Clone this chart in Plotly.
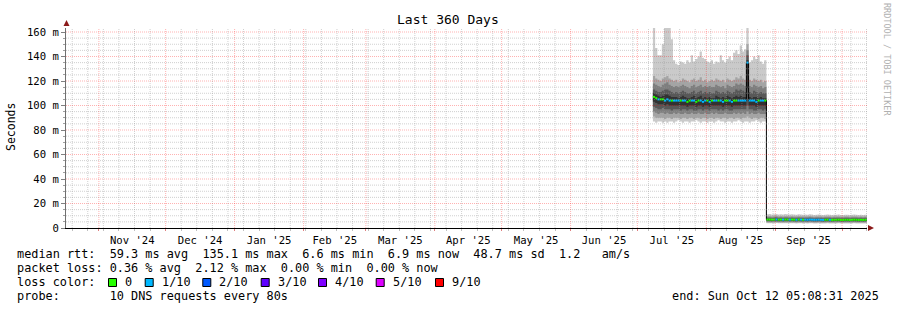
import pandas as pd
import plotly.graph_objects as go

# ---------------- data ----------------
range_start = pd.Timestamp('2024-10-17 05:08:31')
range_end = pd.Timestamp('2025-10-12 05:08:31')
days = pd.date_range('2025-07-08', periods=97, freq='D')

# sorted ping values (ms) per day: p1 = fastest ... p10 = slowest
p10 = [168, 147, 141, 141, 150, 168, 168, 168, 154, 137,
       134, 133, 136, 135, 134, 137, 135, 141, 136, 138,
       140, 144, 139, 138, 136, 135, 137, 134, 136, 135,
       141, 137, 135, 138, 140, 137, 143, 145, 142, 149,
       144, 146, 168, 135, 137, 140, 138, 141, 136, 134, 137,
       11.2, 11.4, 11.0, 11.3, 11.5, 11.1, 11.2, 11.0, 11.4, 11.3,
       11.1, 11.2, 11.0, 10.8, 11.3, 11.1, 10.9, 11.0, 10.8, 11.2,
       11.0, 10.7, 10.9, 11.1, 10.8, 10.6, 10.9, 11.0, 10.8, 10.7,
       10.9, 10.8, 11.0, 10.7, 10.6, 10.9, 10.8, 10.7, 10.9, 11.0,
       10.8, 10.7, 10.9, 10.6, 10.8, 10.9]
p9 = [124, 122, 121, 120, 122, 123, 124, 122, 121, 120,
      121, 119, 120, 122, 121, 120, 119, 121, 122, 120,
      121, 123, 120, 121, 119, 120, 121, 120, 122, 121,
      120, 121, 119, 122, 121, 120, 121, 123, 122, 124,
      122, 121, 150, 121, 120, 122, 121, 120, 121, 119, 120,
      9.7, 9.8, 9.6, 9.7, 9.9, 9.6, 9.7, 9.6, 9.8, 9.7,
      9.6, 9.7, 9.6, 9.5, 9.7, 9.6, 9.5, 9.6, 9.5, 9.7,
      9.6, 9.4, 9.5, 9.6, 9.5, 9.4, 9.5, 9.6, 9.5, 9.4,
      9.5, 9.5, 9.6, 9.4, 9.4, 9.5, 9.5, 9.4, 9.5, 9.6,
      9.5, 9.4, 9.5, 9.4, 9.5, 9.5]
p8 = [118, 117, 116, 115, 117, 118, 119, 117, 116, 115,
      116, 115, 116, 117, 116, 115, 114, 116, 117, 115,
      116, 117, 115, 116, 115, 116, 115, 115, 117, 116,
      115, 116, 114, 117, 116, 115, 116, 118, 117, 118,
      117, 116, 145, 116, 115, 117, 116, 115, 116, 114, 115,
      8.9, 9.0, 8.8, 8.9, 9.1, 8.8, 8.9, 8.8, 9.0, 8.9,
      8.8, 8.9, 8.8, 8.7, 8.9, 8.8, 8.7, 8.8, 8.7, 8.9,
      8.8, 8.6, 8.7, 8.8, 8.7, 8.6, 8.7, 8.8, 8.7, 8.6,
      8.7, 8.7, 8.8, 8.6, 8.6, 8.7, 8.7, 8.6, 8.7, 8.8,
      8.7, 8.6, 8.7, 8.6, 8.7, 8.7]
p7 = [113, 112, 111, 111, 112, 113, 113, 112, 111, 110,
      111, 110, 111, 112, 111, 110, 110, 111, 112, 110,
      111, 112, 110, 111, 110, 111, 110, 110, 112, 111,
      110, 111, 110, 112, 111, 110, 111, 113, 112, 113,
      112, 111, 141, 111, 110, 112, 111, 110, 111, 110, 110,
      8.1, 8.2, 8.0, 8.1, 8.3, 8.0, 8.1, 8.0, 8.2, 8.1,
      8.0, 8.1, 8.0, 7.9, 8.1, 8.0, 7.9, 8.0, 7.9, 8.1,
      8.0, 7.8, 7.9, 8.0, 7.9, 7.8, 7.9, 8.0, 7.9, 7.8,
      7.9, 7.9, 8.0, 7.8, 7.8, 7.9, 7.9, 7.8, 7.9, 8.0,
      7.9, 7.8, 7.9, 7.8, 7.9, 7.9]
p6 = [110, 109, 108, 107, 108, 109, 109, 108, 107, 107,
      107, 106, 107, 108, 107, 106, 106, 107, 108, 106,
      107, 108, 106, 107, 106, 107, 106, 106, 108, 107,
      106, 107, 106, 108, 107, 106, 107, 108, 107, 108,
      107, 107, 137, 107, 106, 107, 107, 106, 107, 106, 106,
      7.4, 7.4, 7.3, 7.4, 7.5, 7.3, 7.4, 7.3, 7.4, 7.4,
      7.3, 7.4, 7.3, 7.2, 7.4, 7.3, 7.2, 7.3, 7.2, 7.4,
      7.3, 7.2, 7.2, 7.3, 7.2, 7.1, 7.2, 7.3, 7.2, 7.1,
      7.2, 7.2, 7.3, 7.1, 7.1, 7.2, 7.2, 7.1, 7.2, 7.3,
      7.2, 7.1, 7.2, 7.1, 7.2, 7.4]
p5 = [103, 102, 101, 101, 101, 100, 101, 100, 100, 100,
      100, 100, 100, 100, 100, 99, 100, 100, 100, 99,
      100, 100, 99, 100, 100, 99, 100, 100, 100, 100,
      100, 99, 100, 100, 100, 99, 100, 100, 100, 100,
      100, 100, 114, 100, 100, 100, 99, 100, 100, 100, 100,
      6.3, 6.3, 6.2, 6.3, 6.4, 6.2, 6.3, 6.2, 6.3, 6.3,
      6.2, 6.3, 6.2, 6.1, 6.3, 6.2, 6.1, 6.2, 6.1, 6.3,
      6.2, 6.1, 6.1, 6.2, 6.1, 6.0, 6.1, 6.2, 6.1, 6.0,
      6.1, 6.1, 6.2, 6.0, 6.0, 6.1, 6.1, 6.0, 6.1, 6.2,
      6.1, 6.0, 6.1, 6.0, 6.1, 6.3]
p4 = [99, 98, 97, 97, 98, 97, 97, 97, 96, 97,
      97, 97, 96, 97, 97, 96, 97, 97, 96, 96,
      97, 97, 96, 97, 97, 96, 97, 97, 97, 96,
      97, 96, 97, 97, 96, 96, 97, 97, 97, 97,
      97, 97, 100, 97, 97, 96, 96, 97, 97, 96, 97,
      5.7, 5.7, 5.6, 5.7, 5.8, 5.6, 5.7, 5.6, 5.7, 5.7,
      5.6, 5.7, 5.6, 5.5, 5.7, 5.6, 5.5, 5.6, 5.5, 5.7,
      5.6, 5.5, 5.5, 5.6, 5.5, 5.4, 5.5, 5.6, 5.5, 5.4,
      5.5, 5.5, 5.6, 5.4, 5.4, 5.5, 5.5, 5.4, 5.5, 5.6,
      5.5, 5.4, 5.5, 5.4, 5.5, 5.6]
p3 = [95, 94, 93, 94, 94, 93, 94, 93, 93, 94,
      93, 94, 93, 93, 94, 93, 93, 94, 93, 93,
      94, 93, 93, 94, 93, 93, 94, 93, 94, 93,
      93, 93, 94, 93, 93, 93, 94, 93, 94, 93,
      94, 93, 95, 93, 94, 93, 93, 94, 93, 93, 93,
      5.1, 5.1, 5.0, 5.1, 5.2, 5.0, 5.1, 5.0, 5.1, 5.1,
      5.0, 5.1, 5.0, 4.9, 5.1, 5.0, 4.9, 5.0, 4.9, 5.1,
      5.0, 4.9, 4.9, 5.0, 4.9, 4.8, 4.9, 5.0, 4.9, 4.8,
      4.9, 4.9, 5.0, 4.8, 4.8, 4.9, 4.9, 4.8, 4.9, 5.0,
      4.9, 4.8, 4.9, 4.8, 4.9, 5.0]
p2 = [91, 90, 90, 90, 90, 89, 90, 90, 89, 90,
      90, 90, 89, 90, 90, 89, 90, 90, 89, 90,
      90, 89, 90, 90, 89, 90, 90, 89, 90, 90,
      89, 90, 90, 89, 90, 90, 89, 90, 90, 89,
      90, 90, 91, 90, 89, 90, 90, 89, 90, 90, 89,
      4.5, 4.5, 4.4, 4.5, 4.6, 4.4, 4.5, 4.4, 4.5, 4.5,
      4.4, 4.5, 4.4, 4.3, 4.5, 4.4, 4.3, 4.4, 4.3, 4.5,
      4.4, 4.3, 4.3, 4.4, 4.3, 4.2, 4.3, 4.4, 4.3, 4.2,
      4.3, 4.3, 4.4, 4.2, 4.2, 4.3, 4.3, 4.2, 4.3, 4.4,
      4.3, 4.2, 4.3, 4.2, 4.3, 4.4]
p1 = [87, 86, 87, 87, 86, 87, 86, 87, 87, 86,
      87, 88, 87, 86, 87, 87, 86, 87, 87, 88,
      87, 86, 87, 87, 86, 87, 87, 86, 87, 88,
      87, 87, 86, 87, 87, 86, 87, 87, 88, 87,
      86, 87, 87, 86, 87, 87, 88, 87, 86, 87, 87,
      3.9, 3.9, 3.8, 3.9, 4.0, 3.8, 3.9, 3.8, 3.9, 3.9,
      3.8, 3.9, 3.8, 3.7, 3.9, 3.8, 3.7, 3.8, 3.7, 3.9,
      3.8, 3.7, 3.7, 3.8, 3.7, 3.6, 3.7, 3.8, 3.7, 3.6,
      3.7, 3.7, 3.8, 3.6, 3.6, 3.7, 3.7, 3.6, 3.7, 3.8,
      3.7, 3.6, 3.7, 3.6, 3.7, 3.8]
median = [107, 106, 105, 105, 105, 104, 105, 104, 104, 104,
          104, 104, 104, 104, 104, 103, 104, 104, 104, 103,
          104, 104, 103, 104, 104, 103, 104, 104, 104, 104,
          104, 103, 104, 104, 104, 103, 104, 104, 104, 104,
          104, 104, 135, 104, 104, 104, 103, 104, 104, 104, 104,
          6.9, 6.9, 6.8, 6.9, 7.0, 6.8, 6.9, 6.8, 6.9, 6.9,
          6.8, 6.9, 6.8, 6.7, 6.9, 6.8, 6.7, 6.8, 6.7, 6.9,
          6.8, 6.7, 6.7, 6.8, 6.7, 6.6, 6.7, 6.8, 6.7, 6.6,
          6.7, 6.7, 6.8, 6.6, 6.6, 6.7, 6.7, 6.6, 6.7, 6.8,
          6.7, 6.6, 6.7, 6.6, 6.7, 6.9]
# lost pings out of 10, per day
loss = [0, 0, 1, 0, 0, 1, 1, 1, 0, 1,
        1, 1, 0, 1, 1, 0, 0, 1, 1, 0,
        0, 1, 1, 1, 0, 1, 0, 1, 1, 0,
        1, 1, 0, 0, 1, 1, 0, 0, 1, 1,
        1, 1, 1, 1, 1, 1, 1, 0, 1, 1, 0,
        0, 0, 0, 0, 1, 0, 0, 1, 0, 0,
        1, 0, 0, 1, 0, 1, 0, 1, 1, 1,
        1, 1, 1, 1, 1, 1, 0, 0, 1, 0,
        0, 0, 0, 0, 0, 0, 0, 0, 0, 0,
        0, 0, 0, 0, 0, 0]

loss_levels = [0, 1, 2, 3, 4, 5, 9]
loss_labels = ['0', '1/10', '2/10', '3/10', '4/10', '5/10', '9/10']
loss_colors = ['#26ff00', '#00b8ff', '#0059ff', '#5e00ff', '#7e00ff', '#dd00ff', '#ff0000']

y_tick_ms = [0, 20, 40, 60, 80, 100, 120, 140, 160]
y_tick_labels = ['0', '20 m', '40 m', '60 m', '80 m', '100 m', '120 m', '140 m', '160 m']
y_minor_step_ms = 5

stats_rtt = "median rtt:  59.3 ms avg  135.1 ms max  6.6 ms min  6.9 ms now  48.7 ms sd  1.2   am/s"
stats_loss = "packet loss: 0.36 % avg  2.12 % max  0.00 % min  0.00 % now"
probe_text = "probe:       10 DNS requests every 80s"
end_text = "end: Sun Oct 12 05:08:31 2025"
title_text = "Last 360 Days"

# ---------------- layout helpers ----------------
W, H = 897, 310
L, R, T, B = 66, 867, 28, 228
FONT = "DejaVu Sans Mono"
y_top = (B - T) / 1.225 / 1000


def px(x):
    return (x - L) / (R - L)


def py(y):
    return (B - y) / (B - T)


def nb(s):
    return s.replace(' ', '\u00a0')


xs = list(days) + [range_end]


def ext(vals):
    return [v / 1000 for v in vals] + [vals[-1] / 1000]


fig = go.Figure()

smoke_pairs = [(p1, p10), (p2, p9), (p3, p8), (p4, p7), (p5, p6)]
smoke_colors = ['#cacaca', '#a4a4a4', '#7e7e7e', '#585858', '#323232']
for (lo, hi), col in zip(smoke_pairs, smoke_colors):
    fig.add_trace(go.Scatter(x=xs, y=ext(lo), mode='lines', line=dict(width=0, shape='hv'),
                             hoverinfo='skip', showlegend=False))
    fig.add_trace(go.Scatter(x=xs, y=ext(hi), mode='lines', line=dict(width=0, shape='hv'),
                             fill='tonexty', fillcolor=col, hoverinfo='skip', showlegend=False))

# black median connector
fig.add_trace(go.Scatter(x=xs, y=ext(median), mode='lines',
                         line=dict(width=1, color='#000000', shape='hv'),
                         hoverinfo='skip', showlegend=False))

# loss-coloured median segments
for lvl, col in zip(loss_levels, loss_colors):
    sx, sy = [], []
    for i, (m, l) in enumerate(zip(median, loss)):
        if l == lvl:
            sx += [xs[i], xs[i + 1], None]
            sy += [m / 1000, m / 1000, None]
    if sx:
        fig.add_trace(go.Scatter(x=sx, y=sy, mode='lines', line=dict(width=2, color=col),
                                 hoverinfo='skip', showlegend=False))

major_grid = 'rgba(255,0,0,0.30)'
minor_grid = 'rgba(150,150,150,0.45)'
DOT = '1px,1px'

fig.update_xaxes(
    type='date', range=[range_start, range_end],
    dtick='M1', tick0='2024-11-01', tickformat="%b '%y", ticklabelmode='period',
    showgrid=False,
    ticks='outside', ticklen=2, tickcolor='#e08080',
    showline=True, linecolor='#000000', linewidth=1,
    tickfont=dict(family=FONT, size=10.6, color='#000000'),
    minor=dict(dtick=7 * 86400000, tick0='2024-10-20', showgrid=False,
               ticks='outside', ticklen=2, tickcolor='#c0c0c0'),
    zeroline=False, fixedrange=True,
)
fig.update_yaxes(
    range=[0, y_top],
    tickvals=[v / 1000 for v in y_tick_ms], ticktext=y_tick_labels,
    showgrid=False,
    ticks='outside', ticklen=4, tickcolor='#808080',
    showline=True, linecolor='#707070', linewidth=1,
    tickfont=dict(family=FONT, size=10.6, color='#000000'),
    minor=dict(dtick=y_minor_step_ms / 1000, ticks='outside', ticklen=2, tickcolor='#a0a0a0'),
    zeroline=False, fixedrange=True,
)

# grid drawn on top of the data, as rrdtool does
shapes = []
month_starts = pd.date_range('2024-11-01', range_end, freq='MS')
week_lines = [d for d in pd.date_range('2024-10-20', range_end, freq='7D') if d not in set(month_starts)]
for d in week_lines:
    shapes.append(dict(type='line', xref='x', yref='paper', x0=d, x1=d, y0=0, y1=1,
                       line=dict(color=minor_grid, width=1, dash=DOT), layer='above'))
for ms in range(y_minor_step_ms, int(y_top * 1000) + 1, y_minor_step_ms):
    if ms not in y_tick_ms:
        shapes.append(dict(type='line', xref='paper', yref='y', x0=0, x1=1, y0=ms / 1000, y1=ms / 1000,
                           line=dict(color=minor_grid, width=1, dash=DOT), layer='above'))
for d in month_starts:
    shapes.append(dict(type='line', xref='x', yref='paper', x0=d, x1=d, y0=0, y1=1,
                       line=dict(color=major_grid, width=1, dash=DOT), layer='above'))
for ms in y_tick_ms[1:]:
    shapes.append(dict(type='line', xref='paper', yref='y', x0=0, x1=1, y0=ms / 1000, y1=ms / 1000,
                       line=dict(color=major_grid, width=1, dash=DOT), layer='above'))

ann = []
ann.append(dict(x=px(447.5), y=py(20), xref='paper', yref='paper', text=nb(title_text),
                showarrow=False, xanchor='center', yanchor='middle',
                font=dict(family=FONT, size=13, color='#000000')))
ann.append(dict(x=px(11), y=py(127), xref='paper', yref='paper', text='Seconds',
                showarrow=False, textangle=-90, xanchor='center', yanchor='middle',
                font=dict(family=FONT, size=11.5, color='#000000')))
ann.append(dict(x=px(887), y=py(59), xref='paper', yref='paper', text=nb('RRDTOOL / TOBI OETIKER'),
                showarrow=False, textangle=90, xanchor='center', yanchor='middle',
                font=dict(family=FONT, size=8.5, color='#b0b0b0')))

LEG = 11.85
rows_y = [254, 268.3, 282.3, 296.3]
for text, yy in [(stats_rtt, rows_y[0]), (stats_loss, rows_y[1]),
                 ('loss color:', rows_y[2]), (probe_text, rows_y[3])]:
    ann.append(dict(x=px(15), y=py(yy), xref='paper', yref='paper', text=nb(text),
                    showarrow=False, xanchor='left', yanchor='middle',
                    font=dict(family=FONT, size=LEG, color='#000000')))
ann.append(dict(x=px(881), y=py(rows_y[3]), xref='paper', yref='paper', text=nb(end_text),
                showarrow=False, xanchor='right', yanchor='middle',
                font=dict(family=FONT, size=LEG, color='#000000')))

label_x = [124, 160.7, 218.3, 276.7, 334, 391.7, 451]
for lx, lab, col in zip(label_x, loss_labels, loss_colors):
    ann.append(dict(x=px(lx - 1), y=py(rows_y[2]), xref='paper', yref='paper', text=lab,
                    showarrow=False, xanchor='left', yanchor='middle',
                    font=dict(family=FONT, size=LEG, color='#000000')))
    sx0 = lx - 15.5
    shapes.append(dict(type='rect', xref='paper', yref='paper',
                       x0=px(sx0), x1=px(sx0 + 8), y0=py(286.5), y1=py(278.5),
                       fillcolor=col, line=dict(color='#000000', width=1)))

# axis arrows
arrow_col = '#8b1a1a'
shapes.append(dict(type='path', xref='paper', yref='paper',
                   path=f"M {px(63.5)},{py(26)} L {px(69.5)},{py(26)} L {px(66.5)},{py(20)} Z",
                   fillcolor=arrow_col, line=dict(color=arrow_col, width=0)))
shapes.append(dict(type='path', xref='paper', yref='paper',
                   path=f"M {px(868)},{py(225)} L {px(868)},{py(231)} L {px(874)},{py(228)} Z",
                   fillcolor=arrow_col, line=dict(color=arrow_col, width=0)))

fig.update_layout(
    width=W, height=H,
    margin=dict(l=L, r=W - R, t=T, b=H - B, pad=0, autoexpand=False),
    paper_bgcolor='#ffffff', plot_bgcolor='#ffffff',
    showlegend=False, annotations=ann, shapes=shapes,
    font=dict(family=FONT, color='#000000'),
    hovermode=False,
)

fig.write_html("out.html", config={'displayModeBar': False})
